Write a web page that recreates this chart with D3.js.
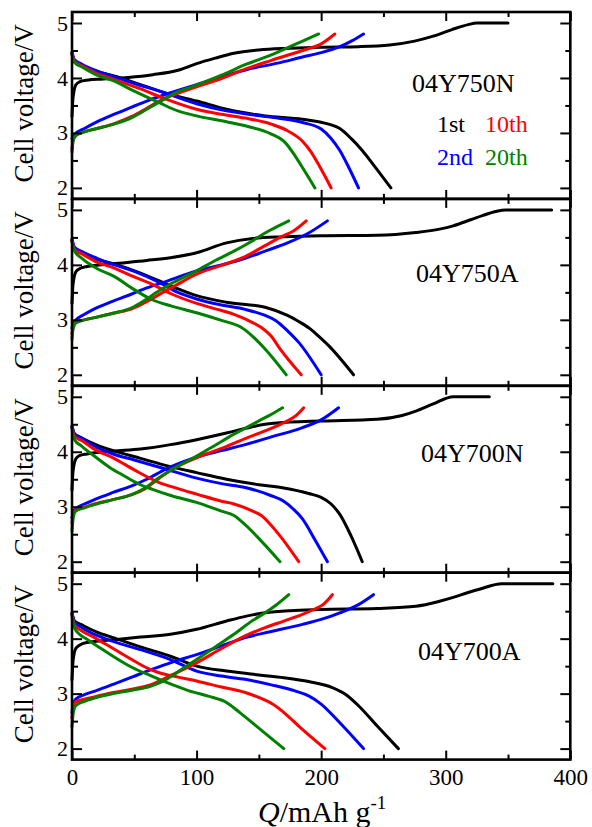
<!DOCTYPE html>
<html>
<head>
<meta charset="utf-8">
<script src="https://cdn.jsdelivr.net/npm/d3@7"></script>
<style>
  body { margin: 0; background: #fff; }
  svg { display: block; }
  text { font-family: "Liberation Serif", "Times New Roman", serif; }
</style>
</head>
<body>
<svg id="chart" width="592" height="827"></svg>
<script>
"use strict";

// Échantillons (un panneau chacun) et cycles tracés
const samples = ["04Y750N", "04Y750A", "04Y700N", "04Y700A"];
const cycles = ["1st", "2nd", "10th", "20th"];

// Graduations
const xTickLabels = [0, 100, 200, 300, 400];
const xMinorTicks = [50, 150, 250, 350];
const yTickLabels = [2, 3, 4, 5];
const yMinorTicks = [2.5, 3.5, 4.5];

// Courbes [Q (mAh/g), tension (V)], un tableau par cycle : 1st, 2nd, 10th, 20th
const charge_04Y750N = [
  [[0,3.3],[0.5,3.55],[1.5,3.75],[3,3.87],[6,3.93],[12,3.96],[25,3.98],[45,4.01],[65,4.06],[85,4.14],[100,4.26],[115,4.36],[130,4.45],[150,4.51],[175,4.54],[200,4.56],[230,4.57],[255,4.6],[275,4.67],[290,4.76],[305,4.88],[318,4.97],[325,5.0],[350,5.0]],
  [[0,2.9],[2,2.97],[10,3.08],[20,3.2],[35,3.35],[48,3.47],[60,3.58],[75,3.7],[100,3.88],[120,4.02],[140,4.15],[165,4.27],[185,4.38],[200,4.46],[215,4.57],[225,4.68],[234,4.8]],
  [[0,2.7],[1,2.88],[3,2.95],[10,3.02],[20,3.08],[35,3.18],[48,3.3],[60,3.45],[70,3.58],[80,3.68],[90,3.76],[100,3.84],[120,3.99],[140,4.17],[160,4.32],[185,4.5],[200,4.62],[211,4.8]],
  [[0,2.65],[1,2.87],[3,2.95],[10,3.02],[20,3.08],[35,3.17],[48,3.28],[60,3.43],[70,3.56],[82,3.72],[100,3.87],[120,4.05],[140,4.25],[160,4.42],[180,4.62],[190,4.72],[198,4.8]]
];
const discharge_04Y750N = [
  [[0,4.45],[2,4.3],[8,4.22],[20,4.12],[33,4.04],[55,3.88],[79,3.7],[100,3.58],[124,3.43],[155,3.31],[185,3.25],[206,3.16],[215,3.08],[224,2.9],[233,2.68],[242,2.42],[256,2.0]],
  [[0,4.47],[2,4.33],[8,4.25],[20,4.13],[33,4.03],[50,3.9],[73,3.74],[100,3.53],[120,3.42],[139,3.35],[165,3.27],[185,3.19],[200,3.07],[208,2.9],[215,2.68],[222,2.38],[230,2.0]],
  [[0,4.45],[2,4.3],[8,4.22],[20,4.08],[33,3.98],[55,3.8],[76,3.61],[100,3.43],[120,3.34],[139,3.27],[160,3.16],[173,3.04],[185,2.85],[192,2.65],[197,2.46],[208,2.0]],
  [[0,4.42],[2,4.28],[8,4.2],[20,4.05],[33,3.95],[50,3.76],[70,3.55],[85,3.4],[100,3.31],[120,3.22],[139,3.13],[160,2.98],[170,2.85],[178,2.62],[185,2.37],[195,2.0]]
];

const charge_04Y750A = [
  [[0,3.3],[0.5,3.55],[1.5,3.75],[3,3.87],[6,3.93],[12,3.97],[33,4.02],[60,4.08],[79,4.13],[100,4.22],[124,4.4],[145,4.48],[170,4.51],[200,4.53],[245,4.54],[276,4.59],[295,4.65],[306,4.71],[320,4.82],[330,4.9],[340,4.97],[348,5.0],[385,5.0]],
  [[0,2.85],[2,2.97],[10,3.1],[18,3.2],[33,3.34],[48,3.47],[60,3.58],[73,3.68],[100,3.89],[120,4.0],[139,4.12],[155,4.25],[173,4.4],[190,4.58],[205,4.8]],
  [[0,2.75],[1,2.88],[3,2.96],[10,3.0],[18,3.04],[33,3.12],[48,3.2],[60,3.33],[73,3.5],[85,3.65],[100,3.83],[120,3.99],[139,4.15],[155,4.35],[167,4.5],[178,4.62],[188,4.8]],
  [[0,2.65],[1,2.85],[3,2.94],[10,3.0],[18,3.04],[33,3.12],[48,3.22],[58,3.35],[68,3.5],[79,3.65],[100,3.89],[115,4.08],[130,4.25],[145,4.44],[155,4.58],[165,4.7],[174,4.8]]
];
const discharge_04Y750A = [
  [[0,4.45],[2,4.3],[8,4.22],[20,4.1],[33,4.02],[55,3.85],[79,3.62],[100,3.44],[124,3.32],[155,3.23],[173,3.08],[182,2.97],[191,2.84],[199,2.68],[206,2.53],[226,2.0]],
  [[0,4.47],[2,4.32],[8,4.24],[20,4.12],[33,4.01],[50,3.88],[70,3.68],[85,3.5],[100,3.38],[120,3.27],[139,3.19],[155,3.08],[164,2.98],[173,2.8],[182,2.59],[200,2.0]],
  [[0,4.45],[2,4.28],[8,4.2],[20,4.05],[33,3.95],[50,3.78],[64,3.65],[80,3.47],[100,3.3],[120,3.17],[130,3.1],[145,2.95],[152,2.86],[160,2.7],[167,2.47],[184,2.0]],
  [[0,4.42],[2,4.25],[8,4.12],[15,4.0],[21,3.92],[33,3.8],[50,3.55],[64,3.37],[80,3.25],[100,3.13],[120,2.99],[136,2.86],[145,2.7],[155,2.47],[172,2.0]]
];

const charge_04Y700N = [
  [[0,3.3],[0.5,3.55],[1.5,3.75],[3,3.87],[6,3.93],[12,3.96],[33,4.01],[55,4.05],[79,4.13],[100,4.22],[124,4.34],[140,4.43],[155,4.5],[175,4.54],[200,4.56],[245,4.59],[265,4.66],[276,4.74],[290,4.87],[306,5.0],[335,5.0]],
  [[0,2.8],[2,2.94],[10,3.05],[18,3.13],[33,3.26],[48,3.38],[60,3.5],[75,3.68],[100,3.9],[120,4.02],[139,4.13],[160,4.27],[185,4.44],[200,4.58],[214,4.8]],
  [[0,2.7],[1,2.86],[3,2.94],[10,2.99],[18,3.05],[33,3.13],[48,3.22],[58,3.32],[70,3.52],[79,3.66],[100,3.89],[120,4.06],[139,4.24],[155,4.38],[170,4.53],[180,4.66],[186,4.8]],
  [[0,2.55],[1,2.8],[3,2.92],[10,2.98],[18,3.04],[33,3.13],[48,3.22],[58,3.33],[68,3.5],[79,3.66],[100,3.92],[115,4.12],[130,4.32],[145,4.5],[155,4.62],[163,4.72],[169,4.8]]
];
const discharge_04Y700N = [
  [[0,4.45],[2,4.33],[8,4.25],[20,4.12],[33,4.02],[55,3.88],[79,3.73],[100,3.62],[124,3.5],[150,3.4],[170,3.34],[190,3.24],[200,3.17],[208,3.05],[215,2.86],[224,2.47],[233,2.0]],
  [[0,4.47],[2,4.32],[8,4.24],[20,4.08],[33,3.96],[50,3.85],[73,3.7],[100,3.52],[120,3.42],[139,3.35],[160,3.2],[170,3.1],[178,2.95],[185,2.78],[195,2.4],[205,2.0]],
  [[0,4.45],[2,4.28],[8,4.2],[20,4.02],[33,3.89],[50,3.67],[70,3.44],[85,3.33],[100,3.23],[120,3.1],[130,3.05],[145,2.92],[152,2.84],[160,2.66],[167,2.47],[182,2.0]],
  [[0,4.42],[2,4.22],[8,4.1],[18,3.92],[30,3.72],[42,3.56],[55,3.4],[64,3.32],[80,3.2],[100,3.08],[120,2.92],[130,2.84],[140,2.65],[148,2.47],[167,2.0]]
];

const charge_04Y700A = [
  [[0,3.25],[0.5,3.5],[1.5,3.7],[3,3.82],[6,3.88],[12,3.93],[33,3.98],[55,4.03],[79,4.08],[100,4.17],[124,4.32],[140,4.41],[155,4.47],[175,4.51],[200,4.53],[245,4.55],[276,4.59],[295,4.68],[306,4.75],[318,4.84],[327,4.9],[345,5.0],[386,5.0]],
  [[0,2.65],[1,2.8],[3,2.9],[10,2.98],[20,3.06],[33,3.17],[48,3.3],[64,3.44],[80,3.57],[100,3.71],[120,3.87],[139,4.02],[160,4.13],[185,4.26],[200,4.35],[215,4.47],[230,4.62],[242,4.8]],
  [[0,2.55],[1,2.75],[3,2.85],[10,2.9],[18,2.94],[33,3.02],[48,3.08],[64,3.17],[80,3.34],[100,3.56],[120,3.82],[139,4.05],[155,4.2],[170,4.32],[185,4.44],[194,4.53],[202,4.63],[209,4.8]],
  [[0,2.4],[1,2.65],[3,2.78],[10,2.86],[18,2.92],[33,3.0],[48,3.06],[64,3.14],[75,3.25],[82,3.35],[100,3.62],[115,3.85],[130,4.08],[145,4.33],[155,4.47],[165,4.63],[174,4.8]]
];
const discharge_04Y700A = [
  [[0,4.45],[2,4.32],[8,4.25],[20,4.12],[33,4.02],[55,3.85],[79,3.68],[100,3.5],[124,3.41],[150,3.34],[170,3.29],[190,3.22],[209,3.11],[220,2.98],[230,2.78],[245,2.41],[262,2.0]],
  [[0,4.47],[2,4.3],[8,4.2],[20,4.06],[33,3.95],[55,3.8],[79,3.62],[100,3.41],[120,3.32],[139,3.26],[160,3.16],[179,3.05],[190,2.96],[200,2.81],[215,2.47],[234,2.0]],
  [[0,4.45],[2,4.25],[8,4.14],[18,4.02],[33,3.82],[48,3.62],[60,3.47],[70,3.38],[85,3.3],[100,3.23],[120,3.12],[139,3.02],[150,2.93],[161,2.81],[172,2.62],[182,2.41],[203,2.0]],
  [[0,4.42],[2,4.2],[6,4.08],[12,3.99],[22,3.84],[33,3.68],[48,3.48],[64,3.32],[80,3.17],[94,3.05],[110,2.95],[124,2.84],[135,2.65],[148,2.41],[170,2.0]]
];

const chargeCurves = [charge_04Y750N, charge_04Y750A, charge_04Y700N, charge_04Y700A];
const dischargeCurves = [discharge_04Y750N, discharge_04Y750A, discharge_04Y700N, discharge_04Y700A];

// Mise en page
const svg = d3.select("#chart");
const plotLeft = 72, plotRight = 570.3, plotTop = 12, panelH = 186.9;
const FONT = '"Liberation Serif", "Times New Roman", serif';

const color = d3.scaleOrdinal().domain(cycles).range(["#000000", "#0000ff", "#ff0000", "#008000"]);
const x = d3.scaleLinear().domain([0, 400]).range([plotLeft, plotRight]);

// position (px) des noms d'échantillons dans chaque panneau : [x, décalage de la ligne de base]
const sampleLabelPos = [[412, 80], [416, 83], [421, 76], [418, 87]];

function styleTicks(g, size) {
  g.select(".domain").remove();
  g.selectAll("line").attr("stroke", "#000").attr("stroke-width", 2);
  g.selectAll("text").attr("font-family", FONT).attr("font-size", size).attr("fill", "#000");
}

function drawPanel(i) {
  const top = plotTop + i * panelH;
  const y = d3.scaleLinear().domain([1.8, 5.2]).range([top + panelH, top]);
  const g = svg.append("g").attr("class", "panel");

  const line = d3.line().x(d => x(d[0])).y(d => y(d[1])).curve(d3.curveMonotoneX);

  // courbes : 1st, 2nd, 10th, 20th (le 20th au-dessus)
  cycles.forEach(function(c, k) {
    [chargeCurves[i][k], dischargeCurves[i][k]].forEach(function(pts) {
      g.append("path")
        .datum(pts)
        .attr("d", line)
        .attr("fill", "none")
        .attr("stroke", color(c))
        .attr("stroke-width", 3)
        .attr("stroke-linejoin", "round")
        .attr("stroke-linecap", "round");
    });
  });

  // graduations vers l'intérieur, sur les quatre côtés
  const isLast = i === samples.length - 1;
  g.append("g").attr("transform", `translate(0,${top + panelH})`)
    .call(d3.axisBottom(x).tickValues(xTickLabels).tickSizeInner(-9).tickSizeOuter(0).tickPadding(9)
      .tickFormat(isLast ? d3.format("d") : () => ""))
    .call(s => styleTicks(s, 23));
  g.append("g").attr("transform", `translate(0,${top + panelH})`)
    .call(d3.axisBottom(x).tickValues(xMinorTicks).tickSizeInner(-5).tickSizeOuter(0).tickFormat(() => ""))
    .call(s => styleTicks(s, 23));
  g.append("g").attr("transform", `translate(0,${top})`)
    .call(d3.axisTop(x).tickValues(xTickLabels).tickSizeInner(-9).tickSizeOuter(0).tickFormat(() => ""))
    .call(s => styleTicks(s, 23));
  g.append("g").attr("transform", `translate(0,${top})`)
    .call(d3.axisTop(x).tickValues(xMinorTicks).tickSizeInner(-5).tickSizeOuter(0).tickFormat(() => ""))
    .call(s => styleTicks(s, 23));

  g.append("g").attr("transform", `translate(${plotLeft},0)`)
    .call(d3.axisLeft(y).tickValues(yTickLabels).tickSizeInner(-10).tickSizeOuter(0).tickPadding(4).tickFormat(d3.format("d")))
    .call(s => styleTicks(s, 22));
  g.append("g").attr("transform", `translate(${plotLeft},0)`)
    .call(d3.axisLeft(y).tickValues(yMinorTicks).tickSizeInner(-6).tickSizeOuter(0).tickFormat(() => ""))
    .call(s => styleTicks(s, 22));
  g.append("g").attr("transform", `translate(${plotRight},0)`)
    .call(d3.axisRight(y).tickValues(yTickLabels).tickSizeInner(-10).tickSizeOuter(0).tickFormat(() => ""))
    .call(s => styleTicks(s, 22));
  g.append("g").attr("transform", `translate(${plotRight},0)`)
    .call(d3.axisRight(y).tickValues(yMinorTicks).tickSizeInner(-5).tickSizeOuter(0).tickFormat(() => ""))
    .call(s => styleTicks(s, 22));

  // cadre
  g.append("rect")
    .attr("x", plotLeft).attr("y", top)
    .attr("width", plotRight - plotLeft).attr("height", panelH)
    .attr("fill", "none").attr("stroke", "#000").attr("stroke-width", 2.6);

  // titre de l'axe vertical
  g.append("text")
    .attr("transform", `translate(33,${top + panelH / 2 - 2}) rotate(-90)`)
    .attr("text-anchor", "middle")
    .attr("font-family", FONT).attr("font-size", 27)
    .text("Cell voltage/V");

  // nom de l'échantillon
  g.append("text")
    .attr("x", sampleLabelPos[i][0]).attr("y", top + sampleLabelPos[i][1])
    .attr("font-family", FONT).attr("font-size", 26)
    .text(samples[i]);
}

samples.forEach((s, i) => drawPanel(i));

// légende des cycles (panneau du haut)
const legendPos = [[437, 131.5], [437, 165], [485, 131.5], [485, 165]];
svg.append("g").selectAll("text")
  .data(cycles)
  .enter()
  .append("text")
    .attr("x", (d, k) => legendPos[k][0])
    .attr("y", (d, k) => legendPos[k][1])
    .attr("font-family", FONT).attr("font-size", 24)
    .attr("fill", d => color(d))
    .text(d => d);

// titre de l'axe horizontal
const xTitle = svg.append("text")
  .attr("x", 258).attr("y", 822)
  .attr("font-family", FONT).attr("font-size", 30);
xTitle.append("tspan").attr("font-style", "italic").text("Q");
xTitle.append("tspan").text("/mAh g");
xTitle.append("tspan").attr("font-size", 19).attr("dy", -13).text("-1");
</script>
</body>
</html>
